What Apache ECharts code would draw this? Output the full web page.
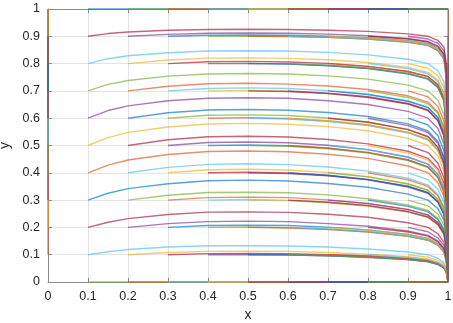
<!DOCTYPE html>
<html>
<head>
<meta charset="utf-8">
<script src="https://cdn.jsdelivr.net/npm/echarts@6/dist/echarts.min.js"></script>
<style>
  html, body { margin: 0; padding: 0; background: #fff; }
  #chart { width: 453px; height: 323px; }
</style>
</head>
<body>
<div id="chart"></div>
<script>
const xGrid = [0.1, 0.15, 0.2, 0.3, 0.4, 0.5, 0.6, 0.7, 0.8, 0.9, 0.95, 0.975, 0.99, 0.996, 1];
// start positions along each side of the unit square
const starts = [0, 0.1, 0.2, 0.3, 0.4, 0.5, 0.6, 0.7, 0.8, 0.9, 1];

// y values of the curves that start at x = 0.1 (rows: start y = 0.1 .. 0.9)
const fromX01 = [
  [0.1, 0.111, 0.119, 0.128, 0.133, 0.133, 0.132, 0.128, 0.121, 0.110, 0.1, 0.087, 0.070, 0.047, 0],
  [0.2, 0.219, 0.232, 0.247, 0.256, 0.257, 0.255, 0.248, 0.237, 0.217, 0.2, 0.176, 0.145, 0.099, 0],
  [0.3, 0.325, 0.342, 0.360, 0.371, 0.373, 0.370, 0.361, 0.347, 0.322, 0.3, 0.268, 0.226, 0.159, 0],
  [0.4, 0.428, 0.447, 0.467, 0.478, 0.480, 0.477, 0.468, 0.453, 0.425, 0.4, 0.363, 0.312, 0.227, 0],
  [0.5, 0.529, 0.548, 0.568, 0.579, 0.581, 0.578, 0.569, 0.554, 0.526, 0.5, 0.461, 0.405, 0.306, 0],
  [0.6, 0.628, 0.645, 0.664, 0.673, 0.675, 0.673, 0.664, 0.650, 0.625, 0.6, 0.562, 0.505, 0.398, 0],
  [0.7, 0.724, 0.738, 0.754, 0.762, 0.764, 0.762, 0.755, 0.743, 0.721, 0.7, 0.666, 0.613, 0.507, 0],
  [0.8, 0.818, 0.829, 0.840, 0.846, 0.847, 0.846, 0.841, 0.832, 0.816, 0.8, 0.774, 0.731, 0.638, 0],
  [0.9, 0.910, 0.916, 0.922, 0.925, 0.926, 0.925, 0.922, 0.918, 0.909, 0.9, 0.885, 0.860, 0.798, 0]
];
const fromX02 = [
  [0.1, 0.108, 0.112, 0.113, 0.112, 0.108, 0.102, 0.093, 0.084, 0.073, 0.059, 0.039, 0],
  [0.2, 0.214, 0.221, 0.223, 0.221, 0.214, 0.204, 0.187, 0.171, 0.150, 0.123, 0.083, 0],
  [0.3, 0.318, 0.328, 0.329, 0.327, 0.319, 0.305, 0.282, 0.262, 0.232, 0.194, 0.135, 0],
  [0.4, 0.420, 0.431, 0.433, 0.430, 0.421, 0.406, 0.380, 0.355, 0.320, 0.273, 0.195, 0],
  [0.5, 0.521, 0.532, 0.534, 0.531, 0.522, 0.506, 0.479, 0.453, 0.414, 0.360, 0.267, 0],
  [0.6, 0.620, 0.630, 0.632, 0.629, 0.621, 0.606, 0.579, 0.553, 0.515, 0.457, 0.353, 0],
  [0.7, 0.717, 0.726, 0.728, 0.725, 0.718, 0.705, 0.682, 0.659, 0.622, 0.567, 0.459, 0],
  [0.8, 0.813, 0.820, 0.821, 0.819, 0.814, 0.804, 0.786, 0.768, 0.739, 0.692, 0.593, 0],
  [0.9, 0.907, 0.911, 0.912, 0.911, 0.908, 0.902, 0.892, 0.881, 0.864, 0.835, 0.766, 0]
];
const fromX03 = [
  [0.1, 0.104, 0.105, 0.104, 0.100, 0.095, 0.086, 0.078, 0.067, 0.054, 0.036, 0],
  [0.2, 0.207, 0.208, 0.207, 0.201, 0.191, 0.174, 0.160, 0.140, 0.115, 0.077, 0],
  [0.3, 0.309, 0.311, 0.309, 0.301, 0.288, 0.266, 0.246, 0.218, 0.181, 0.125, 0],
  [0.4, 0.411, 0.413, 0.410, 0.401, 0.386, 0.360, 0.336, 0.302, 0.256, 0.182, 0],
  [0.5, 0.511, 0.513, 0.510, 0.501, 0.485, 0.458, 0.432, 0.394, 0.341, 0.251, 0],
  [0.6, 0.611, 0.612, 0.610, 0.601, 0.586, 0.559, 0.533, 0.494, 0.437, 0.334, 0],
  [0.7, 0.709, 0.711, 0.709, 0.701, 0.688, 0.663, 0.640, 0.603, 0.547, 0.438, 0],
  [0.8, 0.807, 0.808, 0.806, 0.801, 0.790, 0.771, 0.753, 0.722, 0.674, 0.572, 0],
  [0.9, 0.904, 0.905, 0.904, 0.900, 0.895, 0.884, 0.873, 0.854, 0.823, 0.751, 0]
];
const fromX04 = [
  [0.1, 0.101, 0.100, 0.096, 0.091, 0.082, 0.075, 0.065, 0.052, 0.034, 0],
  [0.2, 0.201, 0.199, 0.194, 0.184, 0.168, 0.154, 0.135, 0.110, 0.074, 0],
  [0.3, 0.302, 0.299, 0.292, 0.279, 0.257, 0.238, 0.210, 0.175, 0.121, 0],
  [0.4, 0.402, 0.399, 0.390, 0.375, 0.350, 0.327, 0.293, 0.248, 0.176, 0],
  [0.5, 0.502, 0.499, 0.490, 0.474, 0.447, 0.421, 0.383, 0.331, 0.242, 0],
  [0.6, 0.602, 0.599, 0.590, 0.575, 0.548, 0.522, 0.483, 0.426, 0.324, 0],
  [0.7, 0.702, 0.699, 0.691, 0.678, 0.653, 0.629, 0.592, 0.536, 0.428, 0],
  [0.8, 0.801, 0.799, 0.793, 0.783, 0.764, 0.744, 0.713, 0.664, 0.561, 0],
  [0.9, 0.901, 0.900, 0.896, 0.890, 0.879, 0.867, 0.848, 0.817, 0.742, 0]
];
const fromX05 = [
  [0.1, 0.099, 0.096, 0.090, 0.082, 0.074, 0.064, 0.052, 0.034, 0],
  [0.2, 0.198, 0.192, 0.183, 0.167, 0.153, 0.134, 0.109, 0.074, 0],
  [0.3, 0.298, 0.290, 0.277, 0.256, 0.236, 0.209, 0.174, 0.120, 0],
  [0.4, 0.397, 0.389, 0.374, 0.348, 0.325, 0.292, 0.247, 0.175, 0],
  [0.5, 0.497, 0.488, 0.472, 0.445, 0.419, 0.382, 0.329, 0.241, 0],
  [0.6, 0.597, 0.588, 0.573, 0.546, 0.520, 0.481, 0.424, 0.323, 0],
  [0.7, 0.698, 0.690, 0.676, 0.652, 0.628, 0.590, 0.534, 0.426, 0],
  [0.8, 0.798, 0.792, 0.782, 0.762, 0.743, 0.712, 0.663, 0.560, 0],
  [0.9, 0.899, 0.896, 0.890, 0.878, 0.867, 0.847, 0.815, 0.741, 0]
];
const fromX06 = [
  [0.1, 0.097, 0.091, 0.083, 0.075, 0.065, 0.052, 0.034, 0],
  [0.2, 0.194, 0.185, 0.168, 0.154, 0.135, 0.110, 0.074, 0],
  [0.3, 0.292, 0.280, 0.258, 0.238, 0.211, 0.175, 0.121, 0],
  [0.4, 0.391, 0.376, 0.351, 0.327, 0.294, 0.249, 0.176, 0],
  [0.5, 0.491, 0.475, 0.448, 0.422, 0.384, 0.332, 0.243, 0],
  [0.6, 0.591, 0.576, 0.549, 0.523, 0.484, 0.427, 0.325, 0],
  [0.7, 0.692, 0.679, 0.654, 0.630, 0.593, 0.537, 0.428, 0],
  [0.8, 0.794, 0.784, 0.764, 0.745, 0.714, 0.665, 0.562, 0],
  [0.9, 0.897, 0.891, 0.879, 0.868, 0.849, 0.817, 0.743, 0]
];
const fromX07 = [
  [0.1, 0.095, 0.085, 0.078, 0.067, 0.054, 0.036, 0],
  [0.2, 0.190, 0.174, 0.159, 0.139, 0.114, 0.077, 0],
  [0.3, 0.287, 0.265, 0.245, 0.217, 0.181, 0.125, 0],
  [0.4, 0.385, 0.359, 0.336, 0.302, 0.256, 0.182, 0],
  [0.5, 0.484, 0.457, 0.431, 0.393, 0.340, 0.250, 0],
  [0.6, 0.585, 0.558, 0.532, 0.493, 0.436, 0.333, 0],
  [0.7, 0.687, 0.662, 0.639, 0.602, 0.546, 0.437, 0],
  [0.8, 0.790, 0.771, 0.752, 0.722, 0.673, 0.571, 0],
  [0.9, 0.894, 0.883, 0.872, 0.854, 0.823, 0.750, 0]
];
const fromX08 = [
  [0.1, 0.090, 0.082, 0.071, 0.057, 0.038, 0],
  [0.2, 0.183, 0.168, 0.147, 0.121, 0.081, 0],
  [0.3, 0.277, 0.257, 0.228, 0.190, 0.132, 0],
  [0.4, 0.374, 0.350, 0.315, 0.268, 0.191, 0],
  [0.5, 0.472, 0.446, 0.408, 0.354, 0.262, 0],
  [0.6, 0.573, 0.547, 0.508, 0.451, 0.347, 0],
  [0.7, 0.676, 0.653, 0.617, 0.561, 0.453, 0],
  [0.8, 0.782, 0.763, 0.734, 0.687, 0.587, 0],
  [0.9, 0.890, 0.879, 0.861, 0.832, 0.762, 0]
];
const fromX09 = [
  [0.1, 0.091, 0.079, 0.064, 0.042, 0],
  [0.2, 0.184, 0.161, 0.133, 0.090, 0],
  [0.3, 0.279, 0.248, 0.208, 0.145, 0],
  [0.4, 0.375, 0.339, 0.290, 0.209, 0],
  [0.5, 0.474, 0.435, 0.380, 0.284, 0],
  [0.6, 0.575, 0.536, 0.479, 0.373, 0],
  [0.7, 0.678, 0.643, 0.588, 0.480, 0],
  [0.8, 0.783, 0.755, 0.710, 0.613, 0],
  [0.9, 0.890, 0.874, 0.846, 0.781, 0]
];
const curvesByStartX = [fromX01, fromX02, fromX03, fromX04, fromX05, fromX06, fromX07, fromX08, fromX09];

// MATLAB default line colour order
const colors = ['#0072BD', '#D95319', '#EDB120', '#7E2F8E', '#77AC30', '#4DBEEE', '#A2142F'];

const font = '"Liberation Sans", Arial, sans-serif';
const axisGray = '#8a8a8a';

function lineSeries(points, color) {
  return {
    type: 'line',
    data: points,
    symbol: 'none',
    smooth: false,
    clip: false,
    silent: true,
    lineStyle: { color: color, width: 1.4, opacity: 0.65 },
    z: 3
  };
}

// one line per start point, in the order they were plotted (x outer, y inner)
const series = [];
for (let i = 0; i < starts.length; i++) {
  for (let j = 0; j < starts.length; j++) {
    const k = i * starts.length + j;
    const color = colors[k % colors.length];
    const x0 = starts[i];
    const y0 = starts[j];
    let pts = null;
    if (i === 0) {
      if (j > 0 && j < starts.length - 1) pts = [[0, y0], [0, 1]];
    } else if (i === starts.length - 1) {
      if (j > 0) pts = [[1, y0], [1, 0]];
    } else if (j === 0) {
      pts = [[x0, 0], [1, 0]];
    } else if (j === starts.length - 1) {
      pts = [[x0, 1], [1, 1]];
    } else {
      const ys = curvesByStartX[i - 1][j - 1];
      const off = xGrid.indexOf(x0);
      pts = ys.map((y, n) => [xGrid[off + n], y]);
    }
    if (pts) series.push(lineSeries(pts, color));
  }
}

const chart = echarts.init(document.getElementById('chart'), null, { renderer: 'canvas' });

const baseAxis = {
  type: 'value',
  min: 0,
  max: 1,
  interval: 0.1,
  axisLine: { show: true, onZero: false, lineStyle: { color: axisGray, width: 1 } },
  axisTick: { show: true, inside: true, length: 4, lineStyle: { color: axisGray } },
  splitLine: { show: false }
};

chart.setOption({
  animation: false,
  backgroundColor: '#fff',
  grid: { left: 48, right: 5, top: 9, bottom: 41, containLabel: false, outerBoundsMode: 'none' },
  xAxis: [
    Object.assign({}, baseAxis, {
      position: 'bottom',
      name: 'x',
      nameLocation: 'middle',
      nameGap: 24,
      nameTextStyle: { color: '#262626', fontSize: 14, fontFamily: font },
      axisLabel: { color: '#262626', fontSize: 12.5, fontFamily: font, margin: 8 },
      splitLine: { show: true, lineStyle: { color: '#e4e4e4', width: 1 } }
    }),
    Object.assign({}, baseAxis, { position: 'top', axisLabel: { show: false } })
  ],
  yAxis: [
    Object.assign({}, baseAxis, {
      position: 'left',
      name: 'y',
      nameLocation: 'middle',
      nameGap: 35,
      nameTextStyle: { color: '#262626', fontSize: 14, fontFamily: font },
      axisLabel: { color: '#262626', fontSize: 12.5, fontFamily: font, margin: 8 },
      splitLine: { show: true, lineStyle: { color: '#e4e4e4', width: 1 } }
    }),
    Object.assign({}, baseAxis, { position: 'right', axisLabel: { show: false } })
  ],
  series: series
});
</script>
</body>
</html>
